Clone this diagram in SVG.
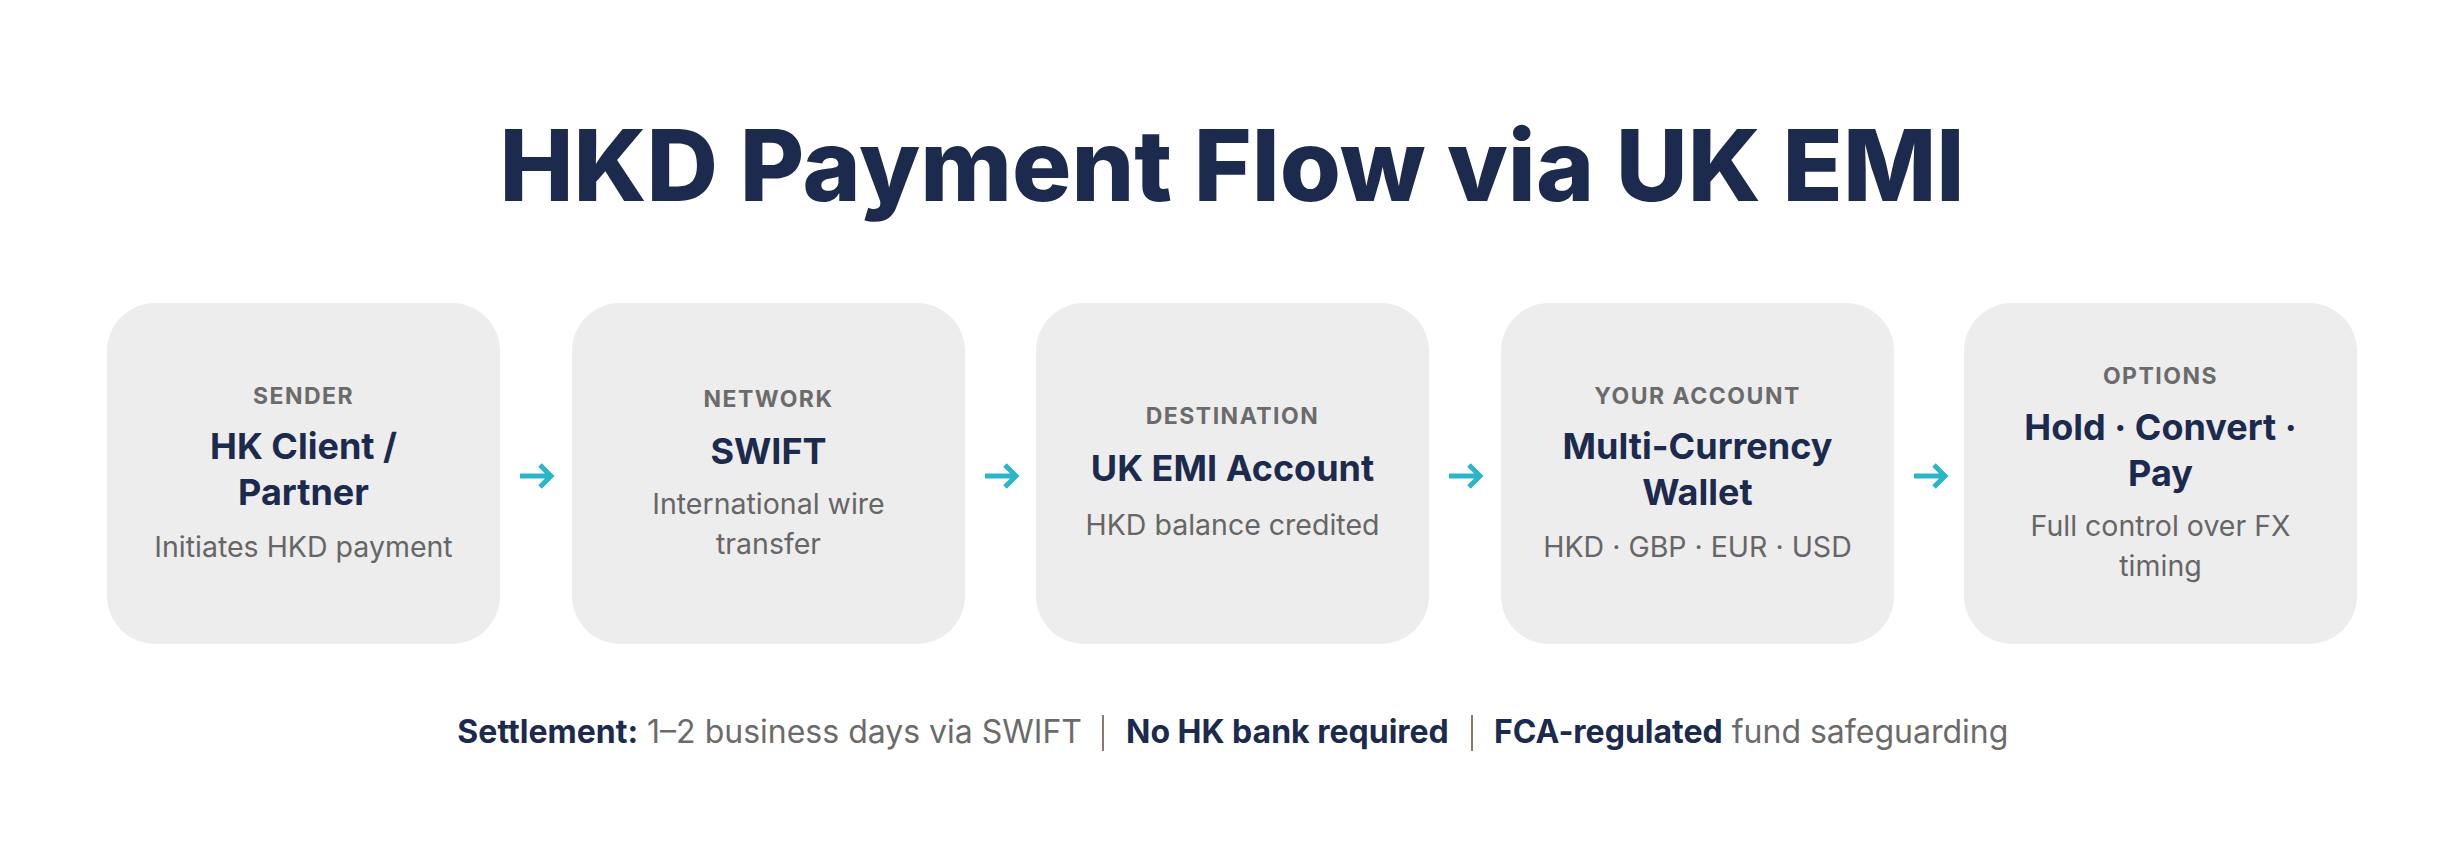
<svg xmlns="http://www.w3.org/2000/svg" width="2464" height="864" viewBox="0 0 2464 864">
<style>
text{font-family:Inter,"Noto Sans","Liberation Sans",sans-serif}
.box{fill:#ededed}
.lab{font-size:23px;font-weight:700;fill:#6b6b6b;letter-spacing:1.5px;text-anchor:middle}
.ttl{font-size:36px;font-weight:700;fill:#1c2a4d;text-anchor:middle}
.dsc{font-size:28.5px;fill:#666;text-anchor:middle}
.arr{stroke:#2bb5c9;stroke-width:5;fill:none}
.f{font-size:32px;fill:#6b6b6b}
.b{font-weight:700;fill:#1c2a4d}
</style>
<rect width="2464" height="864" fill="#fff"/>
<text x="1232" y="201" text-anchor="middle" font-size="99" font-weight="800" fill="#1c2a4d">HKD Payment Flow via UK EMI</text>
<g id="n1"><rect class="box" x="107" y="303" width="393" height="341" rx="48"/>
<text class="lab" x="303.5" y="404">SENDER</text>
<text class="ttl" x="303.5" y="459">HK Client /</text><text class="ttl" x="303.5" y="505">Partner</text>
<text class="dsc" x="303.5" y="557">Initiates HKD payment</text></g>
<g id="n2"><rect class="box" x="572" y="303" width="393" height="341" rx="48"/>
<text class="lab" x="768.5" y="407">NETWORK</text>
<text class="ttl" x="768.5" y="464">SWIFT</text>
<text class="dsc" x="768.5" y="514">International wire</text><text class="dsc" x="768.5" y="554">transfer</text></g>
<g id="n3"><rect class="box" x="1036" y="303" width="393" height="341" rx="48"/>
<text class="lab" x="1232.5" y="424">DESTINATION</text>
<text class="ttl" x="1232.5" y="481">UK EMI Account</text>
<text class="dsc" x="1232.5" y="535">HKD balance credited</text></g>
<g id="n4"><rect class="box" x="1501" y="303" width="393" height="341" rx="48"/>
<text class="lab" x="1697.5" y="404">YOUR ACCOUNT</text>
<text class="ttl" x="1697.5" y="459">Multi-Currency</text><text class="ttl" x="1697.5" y="505">Wallet</text>
<text class="dsc" x="1697.5" y="557">HKD · GBP · EUR · USD</text></g>
<g id="n5"><rect class="box" x="1964" y="303" width="393" height="341" rx="48"/>
<text class="lab" x="2160.5" y="384">OPTIONS</text>
<text class="ttl" x="2160.5" y="440">Hold · Convert ·</text><text class="ttl" x="2160.5" y="486">Pay</text>
<text class="dsc" x="2160.5" y="536">Full control over FX</text><text class="dsc" x="2160.5" y="576">timing</text></g>
<g id="connectors">
<path class="arr" d="M520 476H551M540 465L551 476L540 487"/>
<path class="arr" d="M985 476H1016M1005 465L1016 476L1005 487"/>
<path class="arr" d="M1449 476H1480M1469 465L1480 476L1469 487"/>
<path class="arr" d="M1914 476H1945M1934 465L1945 476L1934 487"/>
</g>
<g id="footer">
<text class="f" x="1082" y="743" text-anchor="end"><tspan class="b">Settlement:</tspan> 1–2 business days via SWIFT</text>
<line x1="1103" y1="715" x2="1103" y2="751" stroke="#8a7a6a" stroke-width="2"/>
<text class="f b" x="1126" y="743">No HK bank required</text>
<line x1="1472" y1="715" x2="1472" y2="751" stroke="#8a7a6a" stroke-width="2"/>
<text class="f" x="1494" y="743"><tspan class="b">FCA-regulated</tspan> fund safeguarding</text>
</g>
</svg>
